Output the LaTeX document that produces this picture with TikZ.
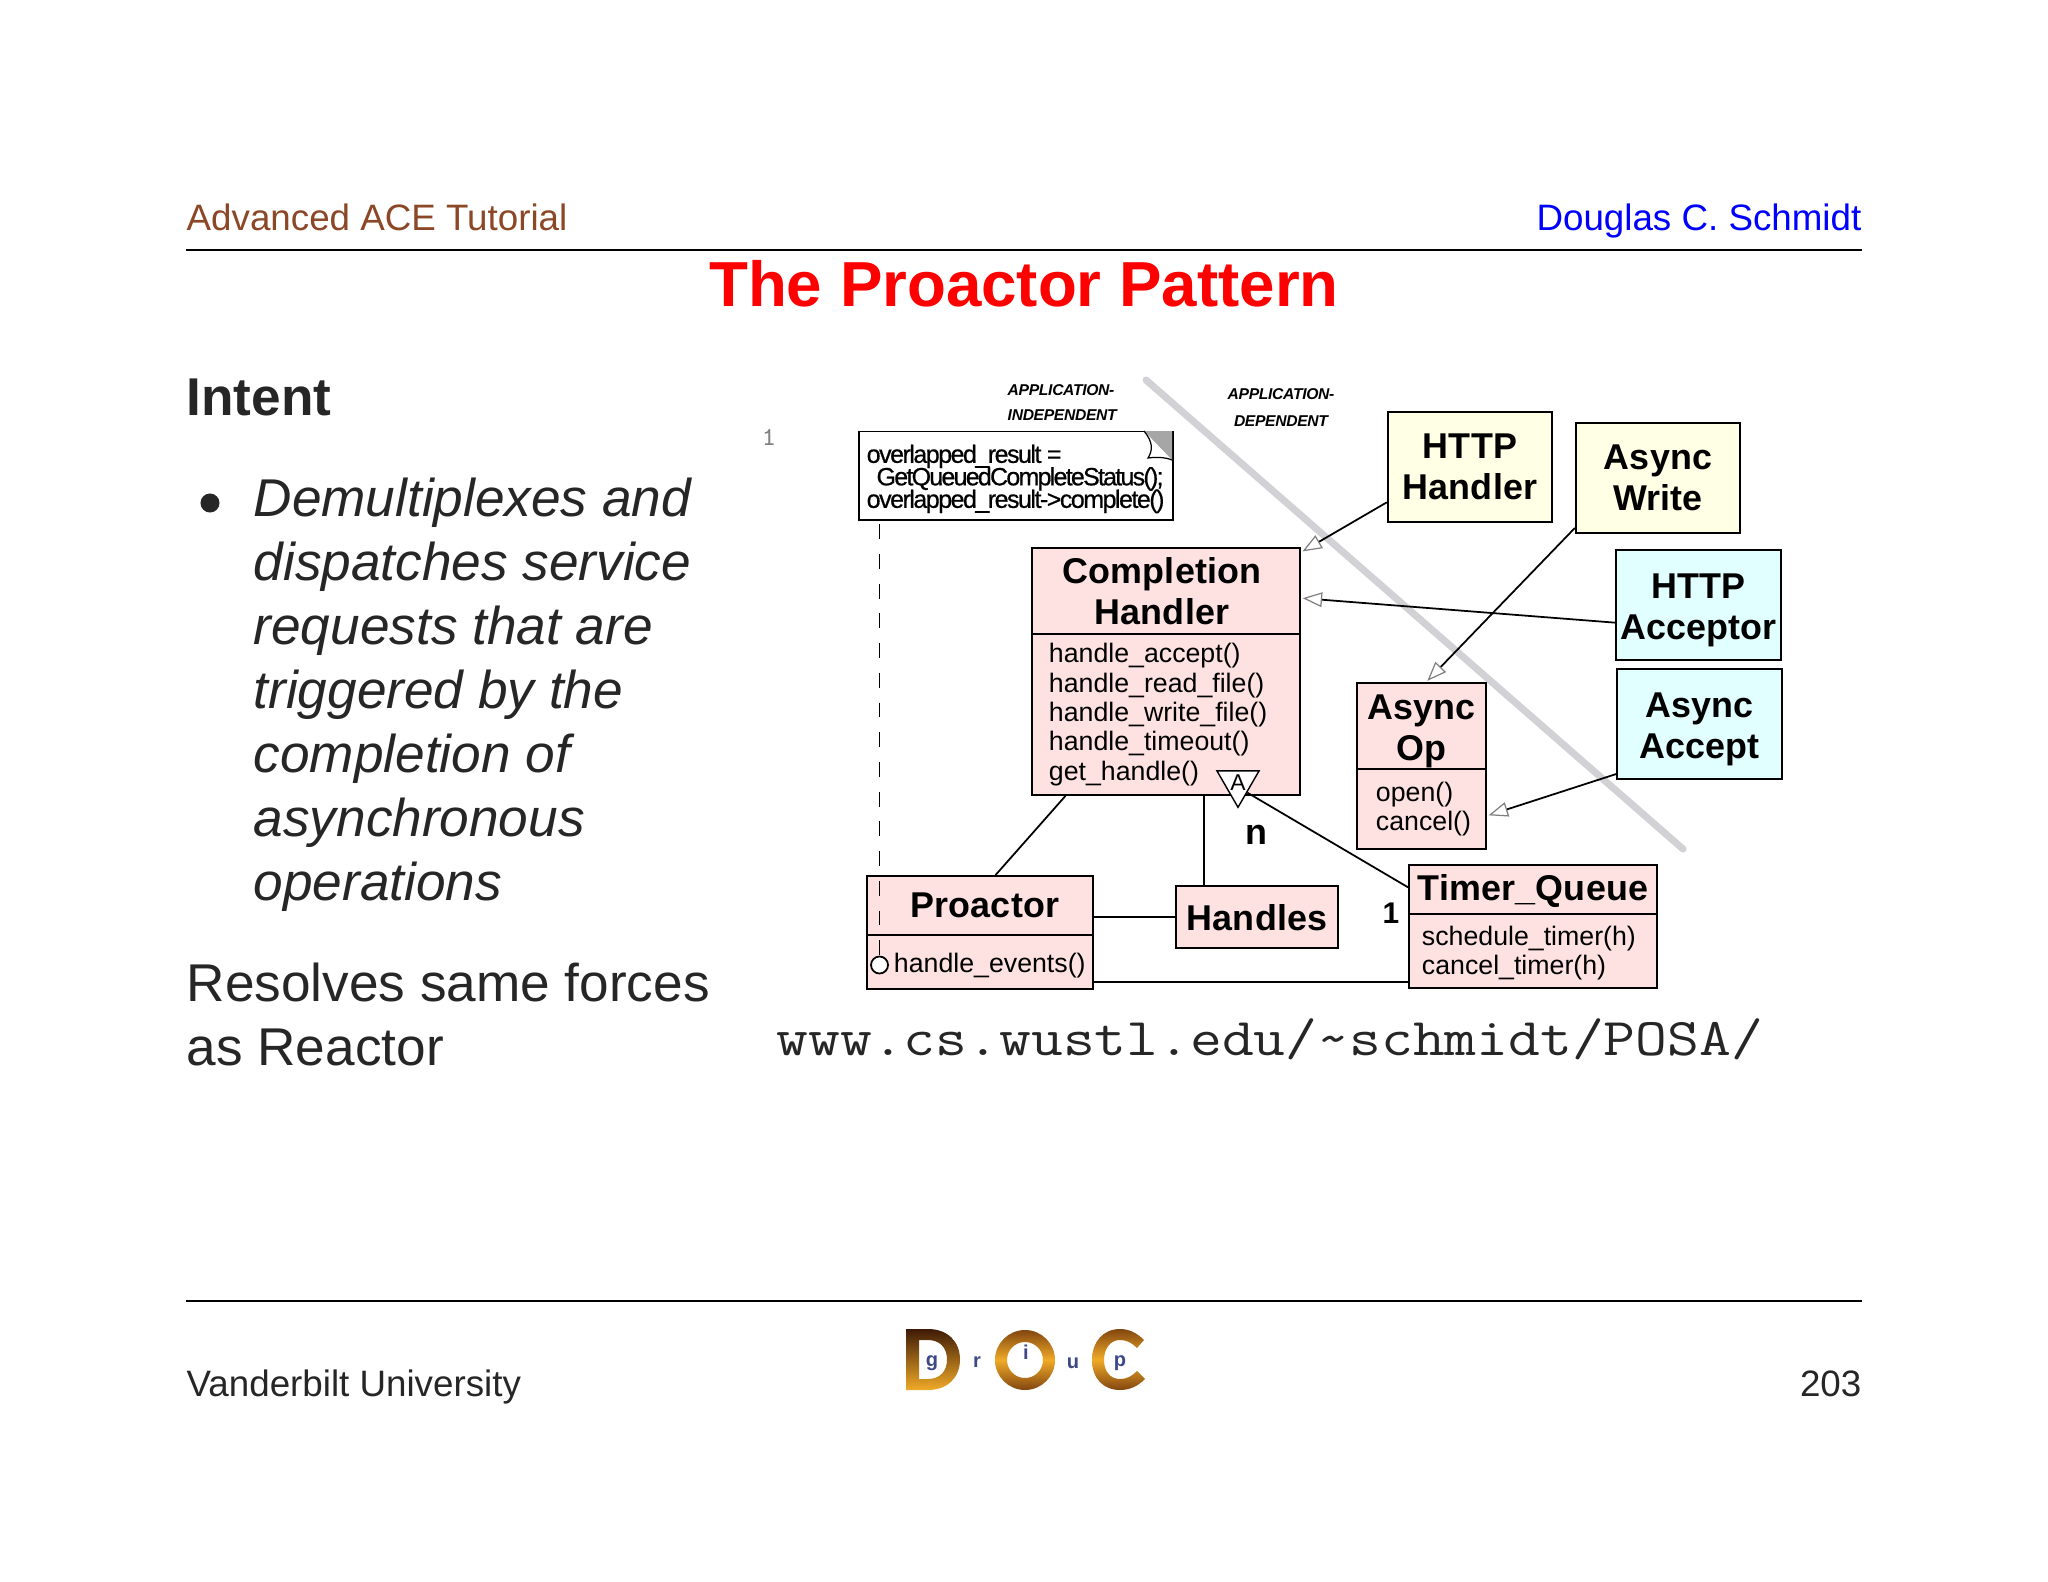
\documentclass[tikz,border=0pt]{standalone}
\usepackage{fontspec}
\setmainfont{Liberation Sans}
\newfontfamily\urlfont[FakeStretch=1.165]{Latin Modern Mono}
\usetikzlibrary{arrows.meta,shapes.geometric}

\definecolor{headbrown}{RGB}{139,71,38}
\definecolor{bodydark}{RGB}{38,38,38}
\definecolor{classpink}{RGB}{254,226,226}
\definecolor{appyellow}{RGB}{255,255,230}
\definecolor{appcyan}{RGB}{225,255,255}
\definecolor{dividegray}{RGB}{210,210,214}
\definecolor{logoblue}{RGB}{60,72,135}
\definecolor{logodark}{RGB}{62,26,6}
\definecolor{logobrown}{RGB}{130,70,15}
\definecolor{logogold}{RGB}{240,170,40}

\newcommand{\boxtitlefont}{\fontsize{10.2pt}{11.66pt}\selectfont\bfseries\addfontfeature{LetterSpace=0.5}}
\newcommand{\methodfont}{\fontsize{7.6pt}{8.34pt}\selectfont}
\newcommand{\notefont}{\fontsize{7.11pt}{6.4pt}\selectfont\lineskiplimit=-10pt\addfontfeature{LetterSpace=-6,FakeBold=0.6}}
\newcommand{\slidefont}{\fontsize{15.12pt}{18.2pt}\selectfont}
\newcommand{\smallfont}{\fontsize{10.45pt}{12pt}\selectfont}
\newcommand{\logofont}{\fontsize{5.7pt}{6pt}\selectfont\bfseries}

\begin{document}
\begin{tikzpicture}[x=0.01cm,y=-0.01cm]
% Box style
\tikzset{
    classbox/.style={draw=black,line width=0.5pt,fill=classpink,inner ysep=0pt,text=black},
    titlebox/.style={classbox,font=\boxtitlefont,align=center,inner xsep=0pt},
    methodbox/.style={classbox,font=\methodfont,align=left},
    appbox/.style={titlebox,minimum width=1.645cm,minimum height=1.1cm},
    slidetext/.style={anchor=base west,inner sep=0pt,text=bodydark},
    pushdown/.style={execute at begin node={\rule{0pt}{#1}}},
    inherit/.style={-{Triangle[length=5.5pt,width=4.2pt,fill=white,color=gray,line width=0.35pt]},line width=0.5pt,shorten >=0.5pt},
    assoc/.style={line width=0.5pt}
}

\useasboundingbox (0,0) rectangle (2048,1582);
\fill[white] (0,0) rectangle (2048,1582);

% Slide header and footer
\node[slidetext,text=headbrown,font=\smallfont] (HEADl) at (186,231){Advanced ACE Tutorial};
\node[anchor=base east,inner sep=0pt,text=blue,font=\smallfont] (HEADr) at (1862,231){Douglas C. Schmidt};
\coordinate (RULEa) at (186,250);
\coordinate (RULEb) at (1862,250);
\coordinate (RULEc) at (186,1301);
\coordinate (RULEd) at (1862,1301);
\draw[line width=0.55pt] (RULEa) -- (RULEb);
\draw[line width=0.55pt] (RULEc) -- (RULEd);
\node[anchor=base,inner sep=0pt,text=red,font=\fontsize{18.1pt}{22pt}\selectfont\bfseries] (TITLE) at (1024,306.5){The Proactor Pattern};
\node[slidetext,font=\smallfont] (FOOTl) at (186,1396){Vanderbilt University};
\node[anchor=base east,inner sep=0pt,text=bodydark,font=\smallfont] (FOOTr) at (1862,1396){203};

% Slide text
\node[slidetext,font=\slidefont\bfseries] (INTENT) at (186,415){Intent};
\node[circle,fill=bodydark,inner sep=0pt,minimum size=0.19cm] (BULLET) at (210,503){};
\node[anchor=north west,inner sep=0pt,text=bodydark,align=left,font=\slidefont\itshape] (ITEM) at (253,477){Demultiplexes and\\dispatches service\\requests that are\\triggered by the\\completion of\\asynchronous\\operations};
\node[anchor=north west,inner sep=0pt,text=bodydark,align=left,font=\slidefont] (RESOLVES) at (186,962){Resolves same forces\\as Reactor};
\node[slidetext,font=\fontsize{15.08pt}{18pt}\selectfont\urlfont] (URL) at (776,1055){www.cs.wustl.edu/\textasciitilde schmidt/POSA/};
\node[anchor=base,inner sep=0pt,text=gray,font=\fontsize{7.4pt}{9pt}\selectfont\ttfamily] (ONE) at (769,445){1};

% Divider
\coordinate (DIVa) at (1146,380);
\coordinate (DIVb) at (1683,849);
\draw[dividegray,line width=2pt,line cap=round] (DIVa) -- (DIVb);
\node[anchor=north west,inner sep=0pt,align=left,font=\fontsize{4.45pt}{7.1pt}\selectfont\bfseries\itshape\addfontfeature{LetterSpace=-2}] (INDEP) at (1007,384){APPLICATION-\\INDEPENDENT};
\node[anchor=north,inner sep=0pt,align=center,font=\fontsize{4.45pt}{7.6pt}\selectfont\bfseries\itshape\addfontfeature{LetterSpace=-2}] (DEP) at (1281,388){APPLICATION-\\DEPENDENT};

% Note
\node[draw=black,line width=0.5pt,fill=white,anchor=north west,minimum width=3.14cm,minimum height=0.885cm,inner sep=0pt] (NOTE) at (858,430.5){};
\node[anchor=north west,inner sep=0pt,align=left,font=\notefont] (NOTEtxt) at (866,444){overlapped\_result =\\\hspace*{2.8pt}{\addfontfeature{LetterSpace=-7}GetQueuedCompleteStatus();}\\overlapped\_result->complete()};
\fill[gray!70] (1144,431) -- (1172,431) -- (1172,460) .. controls (1165,457) and (1156,457) .. (1148,458) .. controls (1153,450) and (1153,442) .. (1144,431);
\draw[line width=0.35pt,fill=white] (1144,431) .. controls (1153,442) and (1153,450) .. (1148,458) .. controls (1156,457) and (1165,457) .. (1172,460);

% Framework classes
\node[titlebox,minimum width=2.68cm,minimum height=0.86cm] (CHhead) at (1166,591){Completion\hspace*{2.3pt}\\Handler\hspace*{2.3pt}};
\node[methodbox,text width=2.34cm,inner xsep=0.17cm,minimum height=1.61cm] (CHbody) at (1166,714.5){handle\_accept()\\handle\_read\_file()\\handle\_write\_file()\\handle\_timeout()\\get\_handle()};
\node[titlebox,minimum width=2.26cm,minimum height=0.59cm] (PROhead) at (980,905.5){\hspace*{2.8pt}Proactor};
\node[methodbox,pushdown=7.8pt,text width=1.72cm,inner xsep=0.27cm,minimum height=0.54cm] (PRObody) at (980,962){handle\_events()};
\node[titlebox,pushdown=8pt,minimum width=1.615cm,minimum height=0.62cm] (HANDLES) at (1257,917){Handles};
\node[titlebox,pushdown=8.4pt,minimum width=2.48cm,minimum height=0.49cm] (TIMERhead) at (1533,889.5){Timer\_Queue};
\node[methodbox,pushdown=6.7pt,text width=2.22cm,inner xsep=0.13cm,minimum height=0.74cm] (TIMERbody) at (1533,951){schedule\_timer(h)\\cancel\_timer(h)};
\node[titlebox,minimum width=1.29cm,minimum height=0.86cm] (OPhead) at (1421.5,726){\rule{0pt}{9.8pt}Async\\Op};
\node[methodbox,text width=0.91cm,inner xsep=0.19cm,minimum height=0.80cm] (OPbody) at (1421.5,809){open()\\cancel()};

% Application classes
\node[appbox,fill=appyellow] (HTTPh) at (1470,467){HTTP\\Handler};
\node[appbox,fill=appyellow] (WRITE) at (1658,478){Async\\Write};
\node[appbox,fill=appcyan] (HTTPa) at (1698.5,605){\rule{0pt}{9.8pt}HTTP\\Acceptor};
\node[appbox,fill=appcyan] (ACCEPT) at (1699.5,724){\rule{0pt}{10.2pt}Async\\Accept};

% Connection
\draw[inherit] (HTTPh.203) -- (CHhead.16);
\draw[inherit] (HTTPa.192.3) -- (CHhead.-3);
\draw[inherit] (WRITE.211.4) -- (OPhead.84);
\draw[inherit] (ACCEPT.211.7) -- (OPbody.-6);
\draw[assoc] (CHbody.219) -- (PROhead.63);
\draw[assoc] (HANDLES.149) -- (HANDLES.149 |- CHbody.south);
\draw[assoc] (HANDLES.west) -- (HANDLES.west -| PROhead.east);
\draw[assoc] (PRObody.-10) -- (PRObody.-10 -| TIMERbody.west);

% Aggregation
\node[regular polygon,regular polygon sides=3,shape border rotate=180,draw=black,line width=0.4pt,fill=white,minimum size=0.486cm,inner sep=0pt,font=\fontsize{6.5pt}{7pt}\selectfont] (AGG) at (1238,783){A};
\draw[assoc] (AGG.-46) -- (TIMERhead.179);
\node[font=\boxtitlefont,inner sep=0pt] (COUNTn) at (1256,835){n};
\node[font=\fontsize{8.5pt}{9pt}\selectfont\bfseries,inner sep=0pt] (COUNTone) at (1391,913){1};

% Note hook
\node[circle,draw=black,line width=0.5pt,fill=white,minimum size=0.17cm,inner sep=0pt] (HOOK) at (879.5,965){};
\draw[line width=0.4pt,dash pattern=on 4.2pt off 4.25pt,shorten <=1pt] (NOTE.south -| HOOK.north) -- (HOOK.north);

% Logo
\path[even odd rule,top color=logodark,bottom color=logogold] (906,1329) -- (928,1329) .. controls (948,1329) and (960,1342) .. (960,1359.5) .. controls (960,1377) and (948,1390) .. (928,1390) -- (906,1390) -- cycle (919,1340) -- (928,1340) .. controls (940,1340) and (947,1348) .. (947,1359.5) .. controls (947,1371) and (940,1379) .. (928,1379) -- (919,1379) -- cycle;
\path[even odd rule,top color=logobrown,bottom color=logobrown,middle color=logogold] (1025,1360) circle[radius=30] (1025,1360) circle[radius=18];
\path[even odd rule,top color=logobrown,bottom color=logobrown,middle color=logogold] (1144,1340) .. controls (1136,1332) and (1128,1329) .. (1120,1329) .. controls (1103,1329) and (1092,1342) .. (1092,1360) .. controls (1092,1378) and (1103,1390) .. (1120,1390) .. controls (1130,1390) and (1138,1386) .. (1145,1379) -- (1137,1371) .. controls (1132,1376) and (1127,1379) .. (1120,1379) .. controls (1110,1379) and (1104,1371) .. (1104,1360) .. controls (1104,1349) and (1110,1340) .. (1120,1340) .. controls (1127,1340) and (1132,1343) .. (1137,1348) -- cycle;
\node[text=logoblue,inner sep=0pt,font=\logofont] (LOGOg) at (932,1363){g};
\node[text=logoblue,inner sep=0pt,font=\logofont] (LOGOr) at (977,1362){r};
\node[text=logoblue,inner sep=0pt,font=\logofont] (LOGOi) at (1026,1352){i};
\node[text=logoblue,inner sep=0pt,font=\logofont] (LOGOu) at (1073,1363){u};
\node[text=logoblue,inner sep=0pt,font=\logofont] (LOGOp) at (1120,1363){p};

\end{tikzpicture}
\end{document}
